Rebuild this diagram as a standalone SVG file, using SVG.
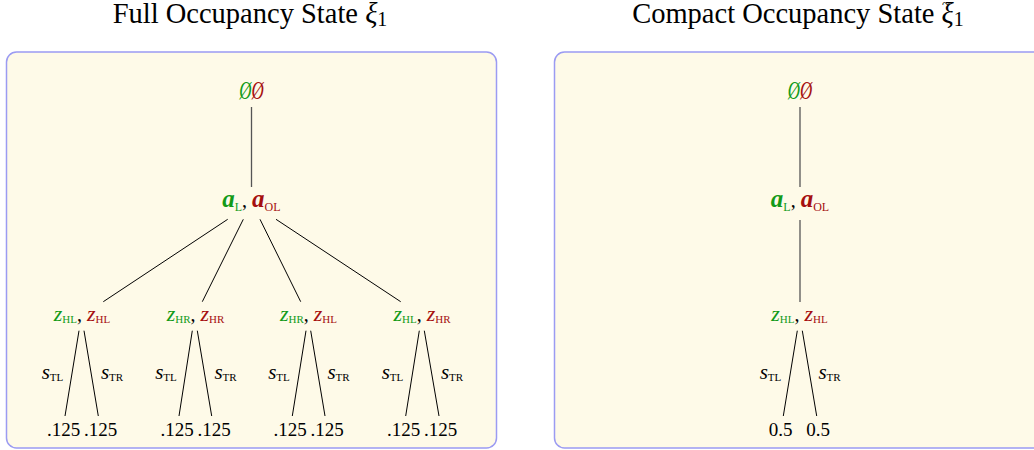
<svg xmlns="http://www.w3.org/2000/svg" width="1034" height="450" viewBox="0 0 1034 450">
<style>
text{font-family:"Liberation Serif","Times New Roman",serif;fill:#000}
.g{fill:#139a18}
.r{fill:#a50f0f}
.mi{font-style:italic}
.bi{font-style:italic;font-weight:bold;font-size:25px}
.sub{font-size:12px}
.zs{font-size:11px}
.z{font-style:italic;font-size:22px}
.cm{font-size:20px}
.title{font-size:28.5px}
.leaf{font-size:19px}
.lab{font-size:21px}
.es{font-size:25px;font-style:italic}
.panel{fill:#fefae8;stroke:#9b9bf2;stroke-width:1.5}
.edge{stroke:#000;stroke-width:1;fill:none}
.stem{stroke:#555;stroke-width:1.3;fill:none}
</style>
<g id="titles">
<text class="title" x="250" y="23" text-anchor="middle">Full Occupancy State <tspan class="mi">ξ</tspan><tspan font-size="20" dy="3">1</tspan></text>
<text class="title" x="798" y="23" text-anchor="middle">Compact Occupancy State <tspan class="mi">ξ</tspan><tspan font-size="20" dy="3">1</tspan><tspan x="946" y="9" font-size="15">~</tspan></text>
</g>
<g id="panels">
<rect id="panel-full" class="panel" x="6.5" y="52" width="490" height="396" rx="10"/>
<rect id="panel-compact" class="panel" x="554.5" y="52" width="500" height="396" rx="10"/>
</g>
<g id="connectors">
<line class="stem" x1="251.5" y1="107" x2="251.5" y2="187"/>
<line class="edge" x1="227.7" y1="219.3" x2="103.3" y2="301.7"/>
<line class="edge" x1="243.3" y1="219.3" x2="202.3" y2="301.7"/>
<line class="edge" x1="260" y1="219.3" x2="300.7" y2="301.7"/>
<line class="edge" x1="276" y1="219.3" x2="400.7" y2="301.7"/>
<line class="edge" x1="79" y1="330.7" x2="65" y2="416"/>
<line class="edge" x1="84" y1="330.7" x2="98.3" y2="416"/>
<line class="edge" x1="192.3" y1="330.7" x2="179" y2="416"/>
<line class="edge" x1="197.3" y1="330.7" x2="211.7" y2="416"/>
<line class="edge" x1="306" y1="330.7" x2="292.3" y2="416"/>
<line class="edge" x1="310.7" y1="330.7" x2="325" y2="416"/>
<line class="edge" x1="419.3" y1="330.7" x2="405.7" y2="416"/>
<line class="edge" x1="424.3" y1="330.7" x2="439" y2="416"/>
<line class="stem" x1="800" y1="107" x2="800" y2="187"/>
<line class="stem" x1="800" y1="220" x2="800" y2="302"/>
<line class="edge" x1="797.3" y1="330.7" x2="783.3" y2="416"/>
<line class="edge" x1="802.3" y1="330.7" x2="816.7" y2="416"/>
</g>
<g id="full-root">
<text class="es" transform="translate(251.5,98.5) scale(0.68,1)" text-anchor="middle"><tspan class="g">Ø</tspan><tspan class="r">Ø</tspan></text>
</g>
<g id="full-action">
<text x="251.3" y="206.7" text-anchor="middle"><tspan class="bi g">a</tspan><tspan class="sub g" dy="4">L</tspan><tspan class="cm" dy="-4">, </tspan><tspan class="bi r">a</tspan><tspan class="sub r" dy="4">OL</tspan></text>
</g>
<g id="full-obs-1">
<text x="82" y="321" text-anchor="middle"><tspan class="z g">z</tspan><tspan class="zs g" dy="2">HL</tspan><tspan class="cm" dy="-2">, </tspan><tspan class="z r">z</tspan><tspan class="zs r" dy="2">HL</tspan></text>
</g>
<g id="full-obs-2">
<text x="195.5" y="321" text-anchor="middle"><tspan class="z g">z</tspan><tspan class="zs g" dy="2">HR</tspan><tspan class="cm" dy="-2">, </tspan><tspan class="z r">z</tspan><tspan class="zs r" dy="2">HR</tspan></text>
</g>
<g id="full-obs-3">
<text x="308.5" y="321" text-anchor="middle"><tspan class="z g">z</tspan><tspan class="zs g" dy="2">HR</tspan><tspan class="cm" dy="-2">, </tspan><tspan class="z r">z</tspan><tspan class="zs r" dy="2">HL</tspan></text>
</g>
<g id="full-obs-4">
<text x="422" y="321" text-anchor="middle"><tspan class="z g">z</tspan><tspan class="zs g" dy="2">HL</tspan><tspan class="cm" dy="-2">, </tspan><tspan class="z r">z</tspan><tspan class="zs r" dy="2">HR</tspan></text>
</g>
<g id="full-labels">
<text x="52.5" y="379" text-anchor="middle"><tspan class="lab mi">s</tspan><tspan class="zs" dy="2">TL</tspan></text>
<text x="112" y="379" text-anchor="middle"><tspan class="lab mi">s</tspan><tspan class="zs" dy="2">TR</tspan></text>
<text x="166" y="379" text-anchor="middle"><tspan class="lab mi">s</tspan><tspan class="zs" dy="2">TL</tspan></text>
<text x="225.5" y="379" text-anchor="middle"><tspan class="lab mi">s</tspan><tspan class="zs" dy="2">TR</tspan></text>
<text x="279" y="379" text-anchor="middle"><tspan class="lab mi">s</tspan><tspan class="zs" dy="2">TL</tspan></text>
<text x="338.5" y="379" text-anchor="middle"><tspan class="lab mi">s</tspan><tspan class="zs" dy="2">TR</tspan></text>
<text x="392.5" y="379" text-anchor="middle"><tspan class="lab mi">s</tspan><tspan class="zs" dy="2">TL</tspan></text>
<text x="452" y="379" text-anchor="middle"><tspan class="lab mi">s</tspan><tspan class="zs" dy="2">TR</tspan></text>
</g>
<g id="full-leaves">
<text class="leaf" x="63.5" y="435.7" text-anchor="middle">.125</text>
<text class="leaf" x="100.5" y="435.7" text-anchor="middle">.125</text>
<text class="leaf" x="177" y="435.7" text-anchor="middle">.125</text>
<text class="leaf" x="214" y="435.7" text-anchor="middle">.125</text>
<text class="leaf" x="290" y="435.7" text-anchor="middle">.125</text>
<text class="leaf" x="327" y="435.7" text-anchor="middle">.125</text>
<text class="leaf" x="403.5" y="435.7" text-anchor="middle">.125</text>
<text class="leaf" x="440.5" y="435.7" text-anchor="middle">.125</text>
</g>
<g id="compact-root">
<text class="es" transform="translate(800,98.5) scale(0.68,1)" text-anchor="middle"><tspan class="g">Ø</tspan><tspan class="r">Ø</tspan></text>
</g>
<g id="compact-action">
<text x="800" y="206.7" text-anchor="middle"><tspan class="bi g">a</tspan><tspan class="sub g" dy="4">L</tspan><tspan class="cm" dy="-4">, </tspan><tspan class="bi r">a</tspan><tspan class="sub r" dy="4">OL</tspan></text>
</g>
<g id="compact-obs">
<text x="799.5" y="321" text-anchor="middle"><tspan class="z g">z</tspan><tspan class="zs g" dy="2">HL</tspan><tspan class="cm" dy="-2">, </tspan><tspan class="z r">z</tspan><tspan class="zs r" dy="2">HL</tspan></text>
</g>
<g id="compact-labels">
<text x="770.5" y="379" text-anchor="middle"><tspan class="lab mi">s</tspan><tspan class="zs" dy="2">TL</tspan></text>
<text x="829.5" y="379" text-anchor="middle"><tspan class="lab mi">s</tspan><tspan class="zs" dy="2">TR</tspan></text>
</g>
<g id="compact-leaves">
<text class="leaf" x="780.5" y="435.7" text-anchor="middle">0.5</text>
<text class="leaf" x="818" y="435.7" text-anchor="middle">0.5</text>
</g>
</svg>
